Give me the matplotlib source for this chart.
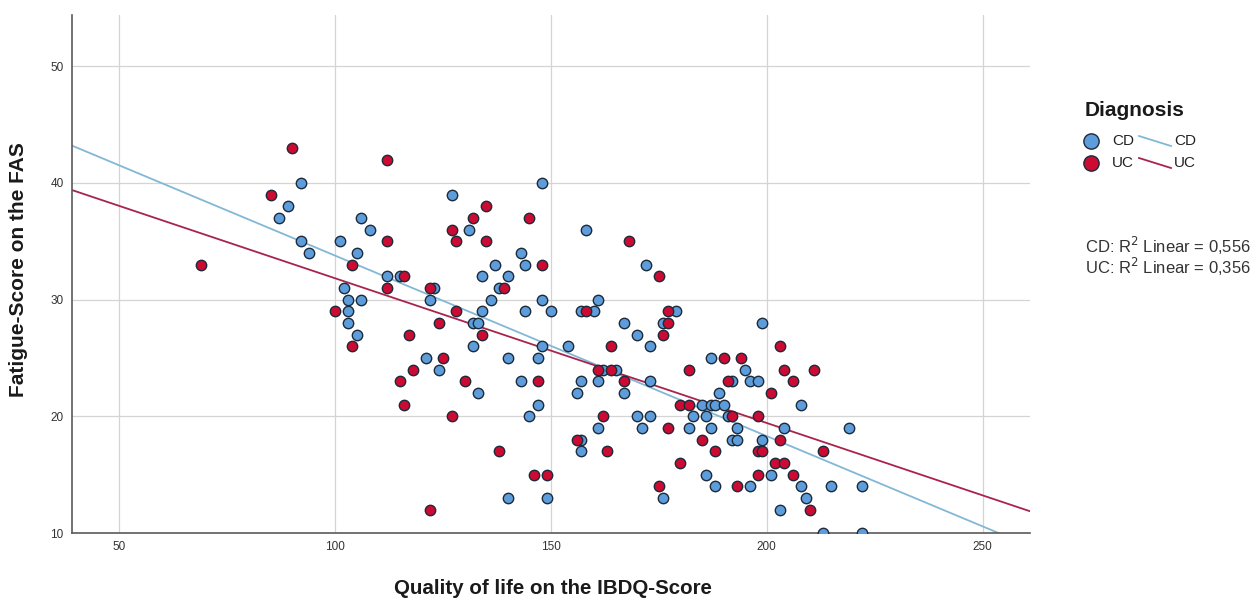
import numpy as np
import matplotlib
matplotlib.use("Agg")
import matplotlib.pyplot as plt
from matplotlib.lines import Line2D

plt.rcParams['font.family'] = ['Liberation Sans', 'DejaVu Sans']

# ---- data ----
# CD patients: (IBDQ score, FAS score)
cd_x = [92, 148, 127, 89, 87, 106, 108, 131, 158, 92, 101, 94, 105, 143,
        137, 144, 172, 112, 115, 134, 140, 102, 123, 138,
        103, 106, 122, 136, 148, 161,
        103, 134, 144, 150, 157, 160, 179,
        103, 132, 133, 167, 176, 199,
        105, 170, 132, 148, 154, 173,
        121, 140, 147, 187, 124, 162, 165, 195,
        143, 157, 161, 173, 192, 196, 198,
        133, 156, 167, 189,
        147, 185, 187, 188, 190, 208,
        145, 170, 173, 183, 186, 191,
        161, 171, 182, 187, 193, 204, 219,
        157, 192, 193, 199, 157, 186, 201,
        188, 196, 208, 215, 222,
        140, 149, 176, 209, 203, 213, 222]
cd_y = [40, 40, 39, 38, 37, 37, 36, 36, 36, 35, 35, 34, 34, 34,
        33, 33, 33, 32, 32, 32, 32, 31, 31, 31,
        30, 30, 30, 30, 30, 30,
        29, 29, 29, 29, 29, 29, 29,
        28, 28, 28, 28, 28, 28,
        27, 27, 26, 26, 26, 26,
        25, 25, 25, 25, 24, 24, 24, 24,
        23, 23, 23, 23, 23, 23, 23,
        22, 22, 22, 22,
        21, 21, 21, 21, 21, 21,
        20, 20, 20, 20, 20, 20,
        19, 19, 19, 19, 19, 19, 19,
        18, 18, 18, 18, 17, 15, 15,
        14, 14, 14, 14, 14,
        13, 13, 13, 13, 12, 10, 10]

# UC patients
uc_x = [90, 112, 85, 135, 132, 145, 127, 112, 128, 135, 168,
        69, 104, 148, 116, 175, 112, 122, 139,
        100, 128, 158, 177, 124, 177, 117, 134, 176,
        104, 164, 203, 125, 190, 194,
        118, 161, 164, 182, 204, 211,
        115, 130, 147, 167, 191, 206, 201,
        116, 180, 182, 127, 162, 192, 198, 177,
        156, 185, 203, 138, 163, 188, 198, 199, 213,
        180, 202, 204, 146, 149, 198, 206, 175, 193, 122, 210]
uc_y = [43, 42, 39, 38, 37, 37, 36, 35, 35, 35, 35,
        33, 33, 33, 32, 32, 31, 31, 31,
        29, 29, 29, 29, 28, 28, 27, 27, 27,
        26, 26, 26, 25, 25, 25,
        24, 24, 24, 24, 24, 24,
        23, 23, 23, 23, 23, 23, 22,
        21, 21, 21, 20, 20, 20, 20, 19,
        18, 18, 18, 17, 17, 17, 17, 17, 17,
        16, 16, 16, 15, 15, 15, 15, 14, 14, 12, 12]

groups = ['CD', 'UC']
r2_labels = ['0,556', '0,356']
x_ticks = [50, 100, 150, 200, 250]
y_ticks = [10, 20, 30, 40, 50]

# ---- styling ----
cd_face = '#5e9ddb'
uc_face = '#cc0a32'
edge = '#1c2a3a'
cd_line = '#82b8d6'
uc_line = '#a8244c'

W, H = 1257, 598
fig = plt.figure(figsize=(W / 100, H / 100), dpi=100)
ax = fig.add_axes([72 / W, 1 - 533 / H, (1030 - 72) / W, (533 - 15) / H])

xlim = (39, 261)
ylim = (10, 54.4)
ax.set_xlim(*xlim)
ax.set_ylim(*ylim)

ax.grid(True, color='#d4d4d4', linewidth=0.9)
ax.set_axisbelow(True)

for xs, ys, lc in [(cd_x, cd_y, cd_line), (uc_x, uc_y, uc_line)]:
    xs = np.asarray(xs, float)
    ys = np.asarray(ys, float)
    k, b = np.polyfit(xs, ys, 1)
    xx = np.array(xlim)
    ax.plot(xx, k * xx + b, color=lc, linewidth=1.3, zorder=2)

ax.scatter(cd_x, cd_y, s=56, facecolor=cd_face, edgecolor=edge, linewidth=1.0, zorder=3)
ax.scatter(uc_x, uc_y, s=56, facecolor=uc_face, edgecolor=edge, linewidth=1.0, zorder=3)

ax.set_xticks(x_ticks)
ax.set_yticks(y_ticks)
ax.tick_params(length=0, labelsize=8.5, labelcolor='#333333', pad=6)
for s in ['top', 'right']:
    ax.spines[s].set_visible(False)
for s in ['left', 'bottom']:
    ax.spines[s].set_color('#5a5a5a')
    ax.spines[s].set_linewidth(1.2)

fig.text(553 / W, 1 - 588 / H, 'Quality of life on the IBDQ-Score',
         ha='center', va='center', fontsize=14.8, fontweight='bold', color='#1a1a1a')
fig.text(19 / W, 1 - 270 / H, 'Fatigue-Score on the FAS', rotation=90,
         ha='center', va='center', fontsize=15, fontweight='bold', color='#1a1a1a')

# legend (drawn in figure pixel coordinates)
def fx(p):
    return p / W

def fy(p):
    return 1 - p / H

fig.text(fx(1085), fy(110), 'Diagnosis', ha='left', va='center',
         fontsize=15, fontweight='bold', color='#1a1a1a')
rows = [(141, cd_face, cd_line), (163, uc_face, uc_line)]
for g, (yp, face, lc) in zip(groups, rows):
    fig.add_artist(Line2D([fx(1091)], [fy(yp)], linestyle='none', marker='o',
                          markersize=11, markerfacecolor=face, markeredgecolor=edge,
                          markeredgewidth=1.0))
    fig.text(fx(1112), fy(yp), g, ha='left', va='center', fontsize=11, color='#222222')
    fig.add_artist(Line2D([fx(1139), fx(1171)], [fy(yp - 5), fy(yp + 5)],
                          color=lc, linewidth=1.3))
    fig.text(fx(1174), fy(yp), g, ha='left', va='center', fontsize=11, color='#222222')

fig.text(fx(1085), fy(246), f'{groups[0]}: R$^2$ Linear = {r2_labels[0]}',
         ha='left', va='center', fontsize=12, color='#333333')
fig.text(fx(1085), fy(267), f'{groups[1]}: R$^2$ Linear = {r2_labels[1]}',
         ha='left', va='center', fontsize=12, color='#333333')

fig.savefig('out.png', dpi=100, facecolor='white')
